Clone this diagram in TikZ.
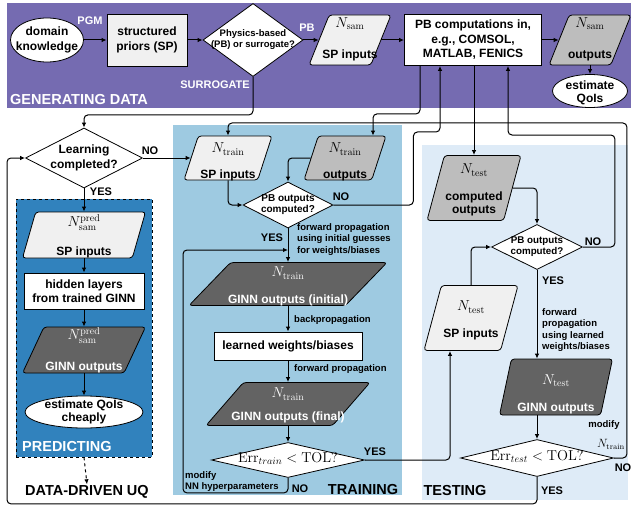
\documentclass[tikz,border=0pt]{standalone}
\usepackage[no-math]{fontspec}
\setmainfont{Liberation Sans}
\usepackage{amsmath}
\usepackage{tikz}
\usetikzlibrary{arrows.meta,positioning,shapes.geometric}
\definecolor{genpurple}{HTML}{756BB1}
\definecolor{predblue}{HTML}{3182BD}
\definecolor{trainblue}{HTML}{9ECAE1}
\definecolor{testblue}{HTML}{DEEBF7}
\definecolor{lightgrey}{HTML}{F0F0F0}
\definecolor{midgrey}{HTML}{BDBDBD}
\definecolor{darkgrey}{HTML}{636363}
\newcommand{\Nsub}[1]{{\fontsize{14}{14}\selectfont$N_{\mathrm{#1}}$}}
\newcommand{\Npred}{{\fontsize{14}{14}\selectfont$N^{\mathrm{pred}}_{\mathrm{sam}}$}}
\newcommand{\inshape}[2][0pt]{\makebox[0pt]{\smash{\raisebox{\dimexpr-#1-.25em\relax}{\begin{tabular}{@{}c@{}}#2\end{tabular}}}}}

\begin{document}
\begin{tikzpicture}[x=1pt, y=-1pt, font=\fontsize{12}{14.5}\selectfont\bfseries, >={Latex[length=5pt,width=4.5pt]},
  every node/.style={align=center},
  box/.style={draw, line width=0.8pt, inner sep=2pt},
  ell/.style={draw, ellipse, fill=white, line width=0.8pt, inner sep=0pt},
  dia/.style={draw, diamond, fill=white, line width=0.8pt, inner sep=0pt},
  para/.style 2 args={draw, trapezium, trapezium left angle=#1, trapezium right angle=#2,
    trapezium stretches body, rounded corners=3pt, line width=0.8pt, inner sep=0pt},
  lab/.style={font=\fontsize{11}{13}\selectfont\bfseries, inner sep=1pt},
  small/.style={font=\fontsize{9.5}{11.6}\selectfont\bfseries, inner sep=1pt},
  sect/.style={font=\fontsize{14.5}{17}\selectfont\bfseries, inner sep=1pt},
  ar/.style={->, line width=1pt, rounded corners=4pt}]
\useasboundingbox (0,0) rectangle (634,508);
\fill[genpurple] (7,3) rectangle (631,108);
\fill[trainblue] (173,125) rectangle (402,495);
\fill[testblue] (422,145) rectangle (628,500);
\node[draw, dashed, fill=predblue, line width=0.8pt, minimum width=136pt, minimum height=258pt] (predBox) at (84,328) {};

\node[ell, minimum width=73pt, minimum height=44pt] (domain) at (47,40) {\inshape{domain\\knowledge}};
\node[box, fill=lightgrey, minimum width=80pt, minimum height=52pt] (priors) at (147,40) {structured\\priors (SP)};
\node[dia, minimum width=100pt, minimum height=73pt, font=\fontsize{9.5}{10.5}\selectfont\bfseries] (pbOrSur) at (253,40) {\inshape{Physics-based\\(PB) or surrogate?}};
\node[para={68}{112}, fill=lightgrey, minimum width=82pt, text height=25pt, text depth=25pt] (samIn) at (350,40) {\inshape{\Nsub{sam}\\[16.5pt]SP inputs}};
\node[box, fill=white, minimum width=137pt, minimum height=51pt] (pbc) at (473,40) {PB computations in,\\e.g., COMSOL,\\MATLAB, FENICS};
\node[para={68}{112}, fill=midgrey, minimum width=82pt, text height=25pt, text depth=25pt] (samOut) at (590,40) {\inshape{\Nsub{sam}\\[16.5pt]outputs}};
\node[ell, minimum width=75pt, minimum height=33pt, font=\fontsize{12}{12.5}\selectfont\bfseries] (qoi) at (590,91) {\inshape[2.5pt]{estimate\\QoIs}};

\node[dia, minimum width=117pt, minimum height=60pt] (learn) at (84,158) {\inshape{Learning\\completed?}};
\node[para={74}{106}, fill=lightgrey, minimum width=123pt, text height=23pt, text depth=23pt] (pIn) at (84,235) {\inshape[2.5pt]{\Npred\\[14.5pt]SP inputs}};
\node[box, fill=white, minimum width=120pt, minimum height=36pt] (hidden) at (84,291) {hidden layers\\from trained GINN};
\node[para={65}{115}, fill=darkgrey, text=white, minimum width=123pt, text height=23pt, text depth=23pt] (pGi) at (84,350) {\inshape[1.5pt]{\Npred\\[16.5pt]GINN outputs}};
\node[ell, minimum width=118pt, minimum height=32pt, font=\fontsize{12}{13}\selectfont\bfseries] (qoiCheap) at (84,412) {\inshape{estimate QoIs\\cheaply}};

\node[para={72}{108}, fill=lightgrey, minimum width=88pt, text height=22pt, text depth=22pt] (trIn) at (228,158) {\inshape[5pt]{\Nsub{train}\\[11.5pt]SP inputs}};
\node[para={72}{108}, fill=midgrey, minimum width=82pt, text height=22pt, text depth=22pt] (trOut) at (345,158) {\inshape[5pt]{\Nsub{train}\\[11.5pt]outputs}};
\node[dia, minimum width=90pt, minimum height=46pt, font=\fontsize{10}{10.5}\selectfont\bfseries] (pbTr) at (288,205) {\inshape{PB outputs\\computed?}};
\node[para={46}{134}, fill=darkgrey, text=white, minimum width=198pt, text height=21.5pt, text depth=21.5pt] (giInit) at (288,284) {\inshape[3.5pt]{\Nsub{train}\\[12.5pt]GINN outputs (initial)}};
\node[box, fill=white, minimum width=148pt, minimum height=28pt] (learned) at (288,346) {learned weights/biases};
\node[para={49}{131}, fill=darkgrey, text=white, minimum width=164pt, text height=21.5pt, text depth=21.5pt] (giFinal) at (288,404) {\inshape[2.5pt]{\Nsub{train}\\[8.5pt]GINN outputs (final)}};
\node[dia, minimum width=153pt, minimum height=35pt, font=\fontsize{14}{14}\selectfont] (errTr) at (288,460) {\inshape{$\mathrm{Err}_{train} < \mathrm{TOL?}$}};

\node[para={75}{105}, fill=midgrey, minimum width=94pt, text height=32.5pt, text depth=32.5pt] (tOut) at (474,188) {\inshape[3pt]{\Nsub{test}\\[12.5pt]computed\\[-1.5pt]outputs}};
\node[dia, minimum width=91pt, minimum height=45pt, font=\fontsize{9.8}{10.5}\selectfont\bfseries] (pbTe) at (537,247) {\inshape{PB outputs\\computed?}};
\node[para={75}{105}, fill=lightgrey, minimum width=94pt, text height=32.5pt, text depth=32.5pt] (teIn) at (471,318) {\inshape[3.5pt]{\Nsub{test}\\[12.5pt]SP inputs}};
\node[para={78}{102}, fill=darkgrey, text=white, minimum width=113pt, text height=28pt, text depth=28pt] (teGi) at (556,387) {\inshape[8pt]{\Nsub{test}\\[12.5pt]GINN outputs}};
\node[dia, minimum width=153pt, minimum height=37pt, font=\fontsize{14}{14}\selectfont] (errTe) at (537,458) {\inshape{$\mathrm{Err}_{test} < \mathrm{TOL?}$}};
\coordinate (loopIn) at (288,250);

\node[lab, text=white] (pgmLbl) at (90,21) {PGM};
\node[lab, text=white] (pbLbl) at (307,28) {PB};
\node[lab, text=white, anchor=east] (surLbl) at (251,85) {SURROGATE};
\node[sect, text=white, anchor=west] (genLbl) at (9,100) {GENERATING DATA};
\node[lab] (learnNo) at (150,151) {NO};
\node[lab] (learnYes) at (101,192) {YES};
\node[sect, text=white, anchor=west] (predLbl) at (21,447) {PREDICTING};
\node[sect] (uq) at (87,492) {DATA-DRIVEN UQ};
\node[lab] (trNo) at (341,197) {NO};
\node[lab] (trYes) at (272,238) {YES};
\node[small, anchor=north west, align=left] (fwdTr) at (296,222) {forward propagation\\using initial guesses\\for weights/biases};
\node[small, anchor=west] (bpLbl) at (293,320) {backpropagation};
\node[small, anchor=west] (fpLbl) at (293,369) {forward propagation};
\node[lab] (errTrYes) at (375,452) {YES};
\node[small, anchor=north west, align=left] (modTr) at (184,470) {modify\\NN hyperparameters};
\node[lab] (errTrNo) at (300,489) {NO};
\node[sect] (trLbl) at (363,490) {TRAINING};
\node[lab] (teNo) at (593,242) {NO};
\node[lab] (teYes) at (553,281) {YES};
\node[small, anchor=north west, align=left] (fwdTe) at (541,307) {forward\\propagation\\using learned\\weights/biases};
\node[small] (modTe) at (604,425) {modify};
\node[font=\fontsize{12}{12}\selectfont, inner sep=1pt] (nTrTe) at (611,444) {$N_{\mathrm{train}}$};
\node[lab] (errTeNo) at (623,468) {NO};
\node[lab] (errTeYes) at (552,491) {YES};
\node[sect] (teLbl) at (455,491) {TESTING};

\draw[ar] (domain.east) -- (priors.west);
\draw[ar] (priors.east) -- (pbOrSur.west);
\draw[ar] (pbOrSur.east) -- (samIn.west);
\draw[ar] (samIn.east) -- (pbc.west);
\draw[ar] (pbc.east) -- (samOut.west);
\draw[ar] (samOut.south) -- (qoi.north);
\draw[ar] (pbOrSur.south) -- ++(0,38) -| (learn.north);
\draw[ar] (learn.east) -- (trIn.west);
\draw[ar] (learn.south) -- (pIn.north);
\draw[ar] (pIn.south) -- (hidden.north);
\draw[ar] (hidden.south) -- (pGi.north);
\draw[ar] (pGi.south) -- (qoiCheap.north);
\draw[ar, dashed] (predBox.south) -- (uq.north);
\draw[ar] (trIn.south) |- (pbTr.west);
\draw[ar] (trOut.west) -| (pbTr.north);
\draw[ar] (pbTr.east) -- ++(80,0) -- ++(0,-73) -| ([xshift=-33pt]pbc.south);
\draw[ar] ([xshift=-53pt]pbc.south) -- ++(0,48) -| ([xshift=28pt]trOut.north);
\draw[ar] (pbTr.south) -- (giInit.north);
\draw[ar] (giInit.south) -- (learned.north);
\draw[ar] (learned.south) -- (giFinal.north);
\draw[ar] (giFinal.south) -- (errTr.north);
\draw[ar] (errTr.south) -- ++(0,15) -- ++(-105,0) |- (loopIn);
\draw[ar] (errTr.east) -| ([xshift=-21pt]teIn.south);
\draw[ar] (pbc.south -| tOut.north) -- (tOut.north);
\draw[ar] (tOut.east) -| (pbTe.north);
\draw[ar] (teIn.north) |- (pbTe.west);
\draw[ar] (pbTe.east) -- ++(32,0) -- ++(0,-112) -| ([xshift=35pt]pbc.south);
\draw[ar] (pbTe.south) -- (pbTe.south |- teGi.north);
\draw[ar] (errTe.north |- teGi.south) -- (errTe.north);
\draw[ar] (errTe.east) -| ++(13,-335) -| (trIn.north);
\draw[ar] (errTe.south) -- ++(0,27) -- ++(-530,0) |- (learn.west);
\end{tikzpicture}
\end{document}
